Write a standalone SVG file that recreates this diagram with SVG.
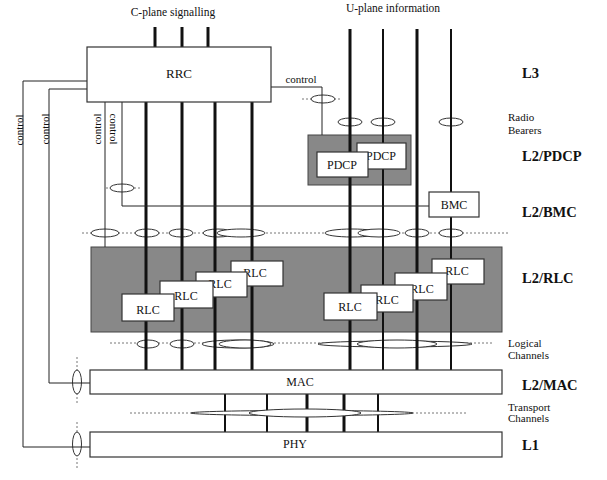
<svg xmlns="http://www.w3.org/2000/svg" width="607" height="480" viewBox="0 0 607 480">
<style>
text{font-family:"Liberation Serif","Times New Roman",serif;fill:#111}
.box{fill:#fff;stroke:#333;stroke-width:1.2}
.area{fill:#888;stroke:#444;stroke-width:1}
.thick{stroke:#111;stroke-width:3;fill:none}
.mid{stroke:#111;stroke-width:2;fill:none}
.thin{stroke:#222;stroke-width:1;fill:none}
.dot{stroke:#777;stroke-width:1;stroke-dasharray:2 2;fill:none}
.ch{fill:#fff;stroke:#333;stroke-width:1}
.lbl{font-size:14.5px;font-weight:bold}
.sm{font-size:11px}
.bt{font-size:12px;text-anchor:middle}
.ctl{font-size:11px;text-anchor:middle}
</style>
<rect width="607" height="480" fill="#fff"/>

<g id="pdcp-area"><rect class="area" x="308" y="135" width="103" height="50"/></g>
<g id="rlc-area"><rect class="area" x="91" y="247" width="411" height="85"/></g>

<g id="connectors">
  <!-- dotted channel lines -->
  <line class="dot" x1="302" y1="99" x2="342" y2="99"/>
  <line class="dot" x1="106" y1="188" x2="142" y2="188"/>
  <line class="dot" x1="82" y1="233" x2="510" y2="233"/>
  <line class="dot" x1="110" y1="343" x2="493" y2="343"/>
  <line class="dot" x1="130" y1="413" x2="192" y2="413"/>
  <line class="dot" x1="412" y1="413" x2="468" y2="413"/>
  <line class="dot" x1="77" y1="357" x2="77" y2="405"/>
  <line class="dot" x1="77" y1="422" x2="77" y2="470"/>
  <!-- channel ellipses -->
  <ellipse class="ch" cx="323" cy="99" rx="12" ry="4"/>
  <ellipse class="ch" cx="350" cy="122" rx="12" ry="4"/>
  <ellipse class="ch" cx="383" cy="122" rx="12" ry="4"/>
  <ellipse class="ch" cx="451" cy="122" rx="12" ry="4"/>
  <ellipse class="ch" cx="122" cy="188" rx="12" ry="4"/>
  <ellipse class="ch" cx="105" cy="233" rx="14" ry="4"/>
  <ellipse class="ch" cx="147" cy="233" rx="12" ry="4"/>
  <ellipse class="ch" cx="181" cy="233" rx="12" ry="4"/>
  <ellipse class="ch" cx="218" cy="233" rx="15" ry="4"/>
  <ellipse class="ch" cx="241" cy="233" rx="24" ry="4"/>
  <ellipse class="ch" cx="352" cy="233" rx="27" ry="4"/>
  <ellipse class="ch" cx="379" cy="233" rx="21" ry="4"/>
  <ellipse class="ch" cx="417" cy="233" rx="12" ry="4"/>
  <ellipse class="ch" cx="451" cy="233" rx="12" ry="4"/>
  <ellipse class="ch" cx="148" cy="344" rx="11" ry="4"/>
  <ellipse class="ch" cx="182" cy="344" rx="12" ry="4"/>
  <ellipse class="ch" cx="238" cy="344" rx="36" ry="4"/>
  <ellipse class="ch" cx="245" cy="344" rx="26" ry="4"/>
  <ellipse class="ch" cx="395" cy="344" rx="77" ry="3"/>
  <ellipse class="ch" cx="397" cy="344" rx="40" ry="4"/>
  <ellipse class="ch" cx="77" cy="382" rx="4.5" ry="12"/>
  <ellipse class="ch" cx="77" cy="444" rx="4.5" ry="12"/>
  <!-- C-plane signalling -->
  <line class="thick" x1="155" y1="27" x2="155" y2="47"/>
  <line class="thick" x1="182" y1="27" x2="182" y2="47"/>
  <line class="thick" x1="208" y1="27" x2="208" y2="47"/>
  <!-- RRC down to MAC -->
  <line class="thick" x1="146" y1="102" x2="146" y2="370"/>
  <line class="thick" x1="182" y1="102" x2="182" y2="370"/>
  <line class="thick" x1="215" y1="102" x2="215" y2="370"/>
  <line class="thick" x1="252" y1="102" x2="252" y2="370"/>
  <!-- U-plane -->
  <line class="thick" x1="350" y1="29" x2="350" y2="370"/>
  <line class="mid" x1="383" y1="29" x2="383" y2="370"/>
  <line class="thick" x1="417" y1="29" x2="417" y2="370"/>
  <line class="mid" x1="451" y1="29" x2="451" y2="370"/>
  <!-- control lines -->
  <polyline class="thin" points="271,87 322,87 322,135"/>
  <line class="thin" x1="105" y1="102" x2="105" y2="247"/>
  <polyline class="thin" points="122,102 122,206 429,206"/>
  <polyline class="thin" points="87,81 23,81 23,447 90,447"/>
  <polyline class="thin" points="87,89 49,89 49,383 90,383"/>
  <!-- MAC to PHY transport -->
  <line class="mid" x1="225" y1="394" x2="225" y2="432"/>
  <line class="mid" x1="267" y1="394" x2="267" y2="432"/>
  <line class="thick" x1="307" y1="394" x2="307" y2="432"/>
  <line class="thick" x1="344" y1="394" x2="344" y2="432"/>
  <line class="mid" x1="378" y1="394" x2="378" y2="432"/>
  <ellipse class="ch" cx="302" cy="413" rx="111" ry="2.5"/>
  <ellipse class="ch" cx="305" cy="413" rx="56" ry="4"/>
</g>

<g id="rrc"><rect class="box" x="87" y="47" width="184" height="55"/><text x="179" y="78" font-size="13" text-anchor="middle">RRC</text></g>

<g id="pdcp-2"><rect class="box" x="357" y="143" width="49" height="26"/><text class="bt" x="381" y="160">PDCP</text></g>
<g id="pdcp-1"><rect class="box" x="317" y="152" width="51" height="25"/><text class="bt" x="342" y="169">PDCP</text></g>

<g id="bmc"><rect class="box" x="429" y="192" width="50" height="25"/><text class="bt" x="454" y="209">BMC</text></g>

<g id="rlc-c4"><rect class="box" x="231" y="261" width="52" height="25"/><text class="bt" x="255" y="277">RLC</text></g>
<g id="rlc-c3"><rect class="box" x="196" y="272" width="51" height="25"/><text class="bt" x="220" y="288">RLC</text></g>
<g id="rlc-c2"><rect class="box" x="160" y="281" width="53" height="27"/><text class="bt" x="186" y="300">RLC</text></g>
<g id="rlc-c1"><rect class="box" x="122" y="294" width="52" height="27"/><text class="bt" x="148" y="314">RLC</text></g>

<g id="rlc-u4"><rect class="box" x="432" y="259" width="52" height="25"/><text class="bt" x="457" y="275">RLC</text></g>
<g id="rlc-u3"><rect class="box" x="395" y="273" width="52" height="27"/><text class="bt" x="422" y="293">RLC</text></g>
<g id="rlc-u2"><rect class="box" x="361" y="285" width="52" height="27"/><text class="bt" x="387" y="304">RLC</text></g>
<g id="rlc-u1"><rect class="box" x="324" y="293" width="53" height="27"/><text class="bt" x="350" y="311">RLC</text></g>

<g id="mac"><rect class="box" x="90" y="370" width="412" height="24"/><text x="300" y="386" font-size="12" text-anchor="middle">MAC</text></g>
<g id="phy"><rect class="box" x="90" y="432" width="412" height="25"/><text x="295" y="448" font-size="12" text-anchor="middle">PHY</text></g>

<g id="labels">
  <text x="173" y="16" font-size="11.5" text-anchor="middle">C-plane signalling</text>
  <text x="393" y="12" font-size="11.5" text-anchor="middle">U-plane information</text>
  <text x="301" y="83" font-size="11" text-anchor="middle">control</text>
  <text class="ctl" transform="translate(23,130) rotate(-90)">control</text>
  <text class="ctl" transform="translate(49,129) rotate(-90)">control</text>
  <text class="ctl" transform="translate(101,129) rotate(-90)">control</text>
  <text class="ctl" transform="translate(110,129) rotate(90)">control</text>
  <text class="lbl" x="522" y="78">L3</text>
  <text class="sm" x="508" y="121">Radio</text>
  <text class="sm" x="508" y="134">Bearers</text>
  <text class="lbl" x="522" y="161">L2/PDCP</text>
  <text class="lbl" x="522" y="217">L2/BMC</text>
  <text class="lbl" x="522" y="283">L2/RLC</text>
  <text class="sm" x="508" y="347">Logical</text>
  <text class="sm" x="508" y="359">Channels</text>
  <text class="lbl" x="522" y="390">L2/MAC</text>
  <text class="sm" x="508" y="411">Transport</text>
  <text class="sm" x="508" y="422">Channels</text>
  <text class="lbl" x="522" y="450">L1</text>
</g>
</svg>
